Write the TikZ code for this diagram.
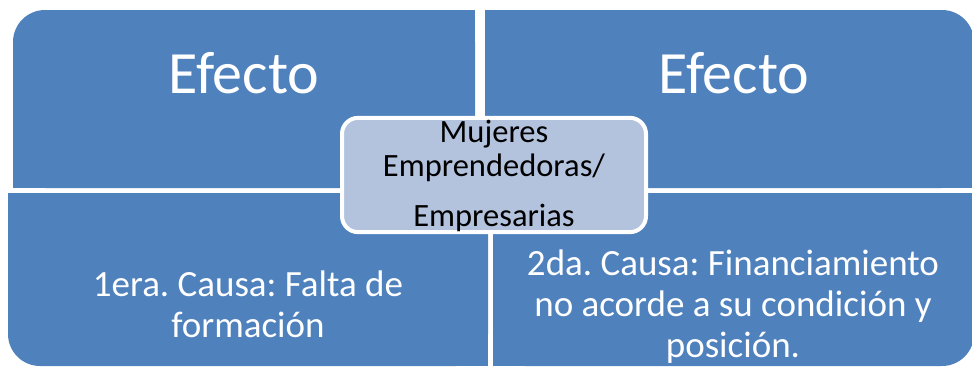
\documentclass[tikz,border=0pt]{standalone}
\usepackage{fontspec}
\setmainfont{Carlito}
\frenchspacing
\definecolor{qblue}{HTML}{4F81BD}
\definecolor{cfill}{HTML}{B3C2DD}
\begin{document}
\begin{tikzpicture}[x=1pt,y=-1pt,
  quadtext/.style={text=white,align=center,inner sep=0pt,anchor=base},
  centerbox/.style={fill=cfill,draw=white,line width=4pt,rounded corners=16pt,
    minimum width=304pt,minimum height=112pt,inner sep=0pt,align=center,
    font=\fontsize{32.5}{34}\selectfont}]
\useasboundingbox (0,0) rectangle (972,367);
% top-left quadrant
\fill[qblue,rounded corners=32pt] (13,10) rectangle (475,188);
\fill[qblue] (53,10) rectangle (475,188);
\fill[qblue] (13,50) rectangle (475,188);
% top-right quadrant
\fill[qblue,rounded corners=32pt] (485,10) rectangle (974,188);
\fill[qblue] (485,10) rectangle (934,188);
\fill[qblue] (485,50) rectangle (974,188);
% bottom-left quadrant
\fill[qblue,rounded corners=32pt] (8,193) rectangle (488,366);
\fill[qblue] (48,193) rectangle (488,366);
\fill[qblue] (8,193) rectangle (488,326);
% bottom-right quadrant
\fill[qblue,rounded corners=32pt] (493,193) rectangle (974,366);
\fill[qblue] (493,193) rectangle (934,366);
\fill[qblue] (493,193) rectangle (974,326);
% texts
\node[quadtext,font=\fontsize{60}{64}\selectfont] (e1) at (244,93) {Efecto};
\node[quadtext,font=\fontsize{60}{64}\selectfont] (e2) at (734,93) {Efecto};
\node[quadtext,font=\fontsize{37}{41}\selectfont] (c1) at (248,337) {1era. Causa: Falta de\\formación};
\node[quadtext,font=\fontsize{37}{41}\selectfont] (c2) at (733,357) {2da. Causa: Financiamiento\\no acorde a su condición y\\posición.};
% centre box
\node[centerbox] (m) at (494,175) {\rule{0pt}{25pt}Mujeres\\Emprendedoras/\\[16pt]Empresarias};
\end{tikzpicture}
\end{document}
